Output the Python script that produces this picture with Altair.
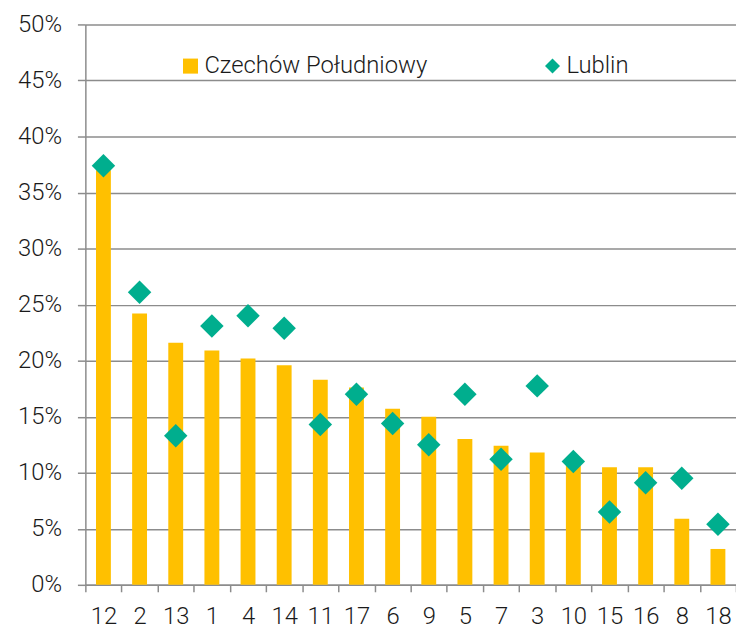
import altair as alt
import pandas as pd

categories = ["12", "2", "13", "1", "4", "14", "11", "17", "6", "9",
              "5", "7", "3", "10", "15", "16", "8", "18"]
czechow = [37.0, 24.2, 21.6, 20.9, 20.2, 19.6, 18.3, 17.6, 15.7, 15.0,
           13.0, 12.4, 11.8, 10.8, 10.5, 10.5, 5.9, 3.2]
lublin = [37.4, 26.1, 13.3, 23.1, 24.0, 22.9, 14.3, 17.0, 14.4, 12.5,
          17.0, 11.2, 17.75, 11.0, 6.5, 9.1, 9.5, 5.4]
series_names = ["Czechów Południowy", "Lublin"]
series_colors = ["#FFC000", "#00AE8E"]
y_ticks = [0, 0.05, 0.10, 0.15, 0.20, 0.25, 0.30, 0.35, 0.40, 0.45, 0.50]

rows = []
for c, v in zip(categories, czechow):
    rows.append({"cat": c, "series": series_names[0], "value": v / 100})
for c, v in zip(categories, lublin):
    rows.append({"cat": c, "series": series_names[1], "value": v / 100})
df = pd.DataFrame(rows)

FONT = "Roboto"
WEIGHT = 300
FS = 24
GRAY = "#8c8c8c"
TXT = "#1a1a1a"

x_enc = alt.X(
    "cat:N", sort=categories, title=None,
    scale=alt.Scale(paddingInner=0, paddingOuter=0),
    axis=alt.Axis(labelAngle=0, tickBand="extent", grid=False,
                  domainColor=GRAY, tickColor=GRAY, domainWidth=1.5,
                  tickWidth=1.5, tickSize=7, labelPadding=13,
                  labelFontSize=FS, labelColor=TXT, labelFont=FONT,
                  labelFontWeight=WEIGHT),
)
y_enc = alt.Y(
    "value:Q", title=None,
    scale=alt.Scale(domain=[0, 0.5], nice=False),
    axis=alt.Axis(values=y_ticks, format=".0%", grid=True, gridColor=GRAY,
                  gridWidth=1.5, domainColor=GRAY, domainWidth=1.5,
                  tickColor=GRAY, tickWidth=1.5, tickSize=8, labelPadding=16,
                  labelFontSize=FS, labelColor=TXT, labelFont=FONT,
                  labelFontWeight=WEIGHT),
)
color_scale = alt.Scale(domain=series_names, range=series_colors)
legend = alt.Legend(title=None, orient="none", legendX=94, legendY=30,
                    direction="horizontal", columns=2, columnPadding=114,
                    labelFontSize=FS, labelFont=FONT, labelColor=TXT,
                    labelFontWeight=WEIGHT,
                    labelLimit=400, symbolSize=230, labelOffset=2,
                    symbolStrokeWidth=0)

bars = alt.Chart(df).transform_filter(
    alt.datum.series == series_names[0]
).mark_bar(width=15).encode(
    x=x_enc, y=y_enc,
    color=alt.Color("series:N", scale=color_scale, legend=legend),
)

points = alt.Chart(df).transform_filter(
    alt.datum.series == series_names[1]
).mark_point(filled=True, size=560, opacity=1).encode(
    x=x_enc, y=y_enc,
    color=alt.Color("series:N", scale=color_scale, legend=legend),
    shape=alt.Shape("series:N",
                    scale=alt.Scale(domain=series_names,
                                    range=["square", "diamond"]),
                    legend=legend),
)

chart = alt.layer(bars, points).properties(
    width=656, height=565,
    autosize=alt.AutoSizeParams(type="none"),
    padding={"left": 78, "top": 14, "right": 0, "bottom": 46},
).configure_view(stroke=None)

chart.save("out.html", embed_options={"renderer": "svg", "actions": False})
